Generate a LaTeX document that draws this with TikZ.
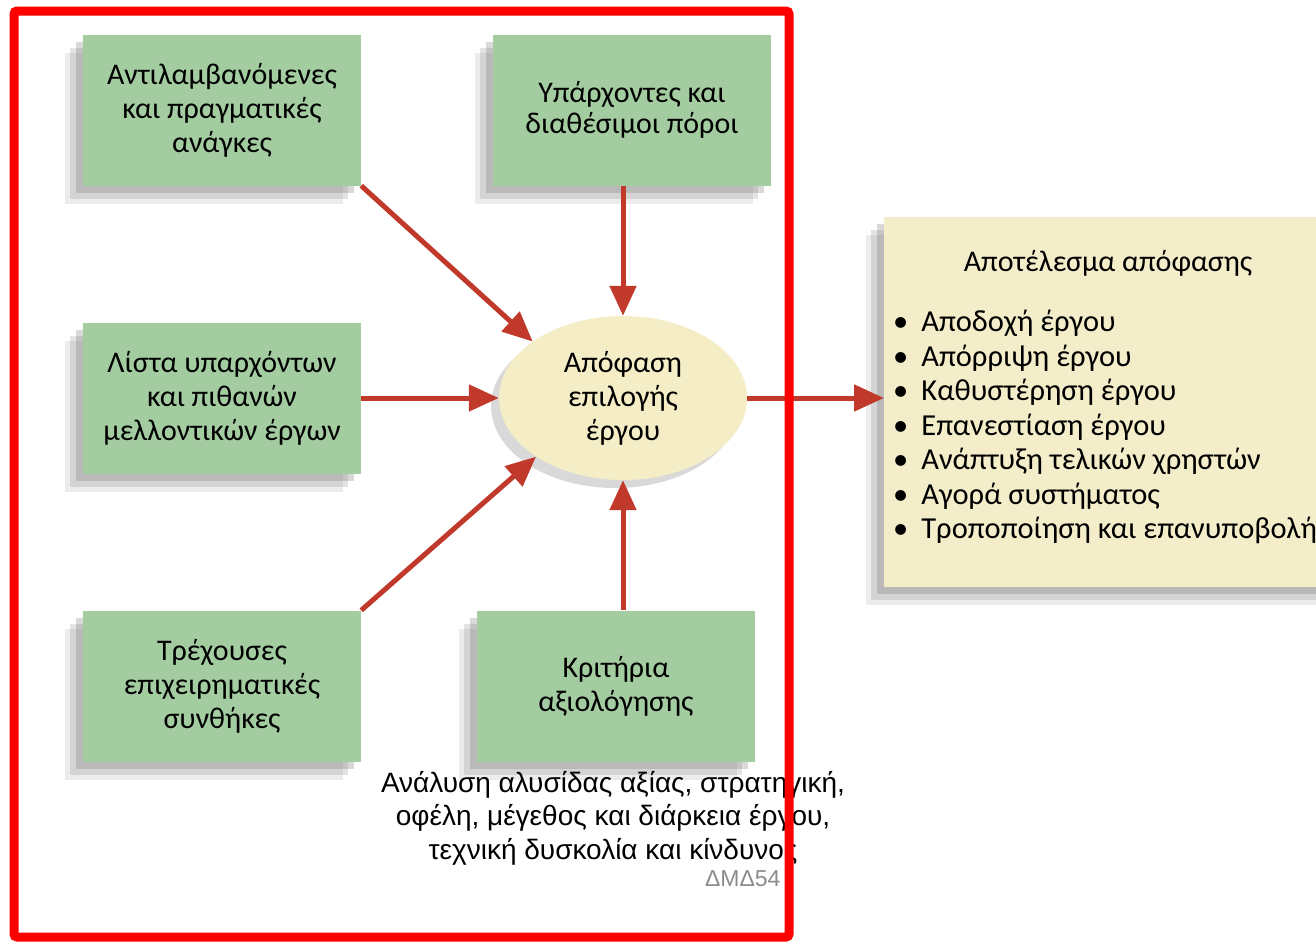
\documentclass[tikz,border=0pt]{standalone}
\usepackage{fontspec}
\setmainfont{Carlito}
\newfontfamily\arialfont{Liberation Sans}
\usetikzlibrary{shapes.geometric,shadows,arrows.meta}
\definecolor{boxgreen}{RGB}{163,205,160}
\definecolor{ellbeige}{RGB}{244,237,198}
\definecolor{resbeige}{RGB}{243,237,201}
\definecolor{arrowred}{RGB}{192,57,43}
\tikzset{
  soft shadow/.style={
    drop shadow={shadow xshift=-18pt, shadow yshift=-18pt, fill=black!60, opacity=0.12},
    drop shadow={shadow xshift=-13pt, shadow yshift=-13pt, fill=black!60, opacity=0.18},
    drop shadow={shadow xshift=-7pt, shadow yshift=-7pt, fill=black!60, opacity=0.25}}
}
\begin{document}
\begin{tikzpicture}[x=1pt, y=-1pt,
  factor/.style={rectangle, fill=boxgreen, minimum width=278pt, minimum height=151pt,
    align=center, font=\fontsize{30}{34}\selectfont, soft shadow},
  flow/.style={arrowred, line width=5pt, -{Triangle[length=30pt, width=26pt]}}]
  \useasboundingbox (0,0) rectangle (1316,945);

  % input factors
  \node [factor] (needs) at (222,110) {Αντιλαμβανόμενες\\και πραγματικές\\ανάγκες};
  \node [factor] (resources) at (632,110) {\raisebox{4pt}{\shortstack{Υπάρχοντες και\\[2pt]διαθέσιμοι πόροι}}};
  \node [factor] (projects) at (222,398) {Λίστα υπαρχόντων\\και πιθανών\\μελλοντικών έργων};
  \node [factor] (conditions) at (222,686) {Τρέχουσες\\επιχειρηματικές\\συνθήκες};
  \node [factor] (criteria) at (616,686) {Κριτήρια\\αξιολόγησης};

  % decision
  \node [ellipse, fill=ellbeige, minimum width=248pt, minimum height=164pt,
    align=center, font=\fontsize{30}{34}\selectfont,
    drop shadow={shadow xshift=-8pt, shadow yshift=-8pt, fill=black!50, opacity=0.3}]
    (decision) at (623,398) {Απόφαση\\επιλογής\\έργου};

  % outcome of the decision
  \node [rectangle, fill=resbeige, minimum width=470pt, minimum height=370pt, anchor=north west,
    soft shadow] (result) at (884,217) {};
  \node [font=\fontsize{30}{34}\selectfont] (restitle) at (1108,263) {Αποτέλεσμα απόφασης};
  \foreach \o [count=\i] in {Αποδοχή έργου, Απόρριψη έργου, Καθυστέρηση έργου,
      Επανεστίαση έργου, Ανάπτυξη τελικών χρηστών, Αγορά συστήματος,
      Τροποποίηση και επανυποβολή} {
    \node [font=\fontsize{30.5}{34}\selectfont, anchor=west, inner sep=0pt]
      (out\i) at (893, 289+34.5*\i) {\textbullet\hspace{13pt}\o};
  }

  % arrows
  \draw [flow] (needs.south east) -- (decision.148);
  \draw [flow] (decision.north |- resources.south) -- (decision.north);
  \draw [flow] (projects.east) -- (decision.west);
  \draw [flow] (conditions.north east) -- (decision.214);
  \draw [flow] (decision.south |- criteria.north) -- (decision.south);
  \draw [flow] (decision.east) -- (result.west |- decision.east);

  % criteria note
  \node [font=\arialfont\fontsize{28}{33.5}\selectfont, align=center] (note) at (613,818)
    {Ανάλυση αλυσίδας αξίας, στρατηγική,\\οφέλη, μέγεθος και διάρκεια έργου,\\τεχνική δυσκολία και κίνδυνος};
  \node [font=\arialfont\fontsize{23}{26}\selectfont, text=black!45, anchor=east] (code) at (784,879) {ΔΜΔ54};

  % red frame
  \draw [red, line width=9pt, rounded corners=3pt] (14,11) rectangle (789,937);
\end{tikzpicture}
\end{document}
